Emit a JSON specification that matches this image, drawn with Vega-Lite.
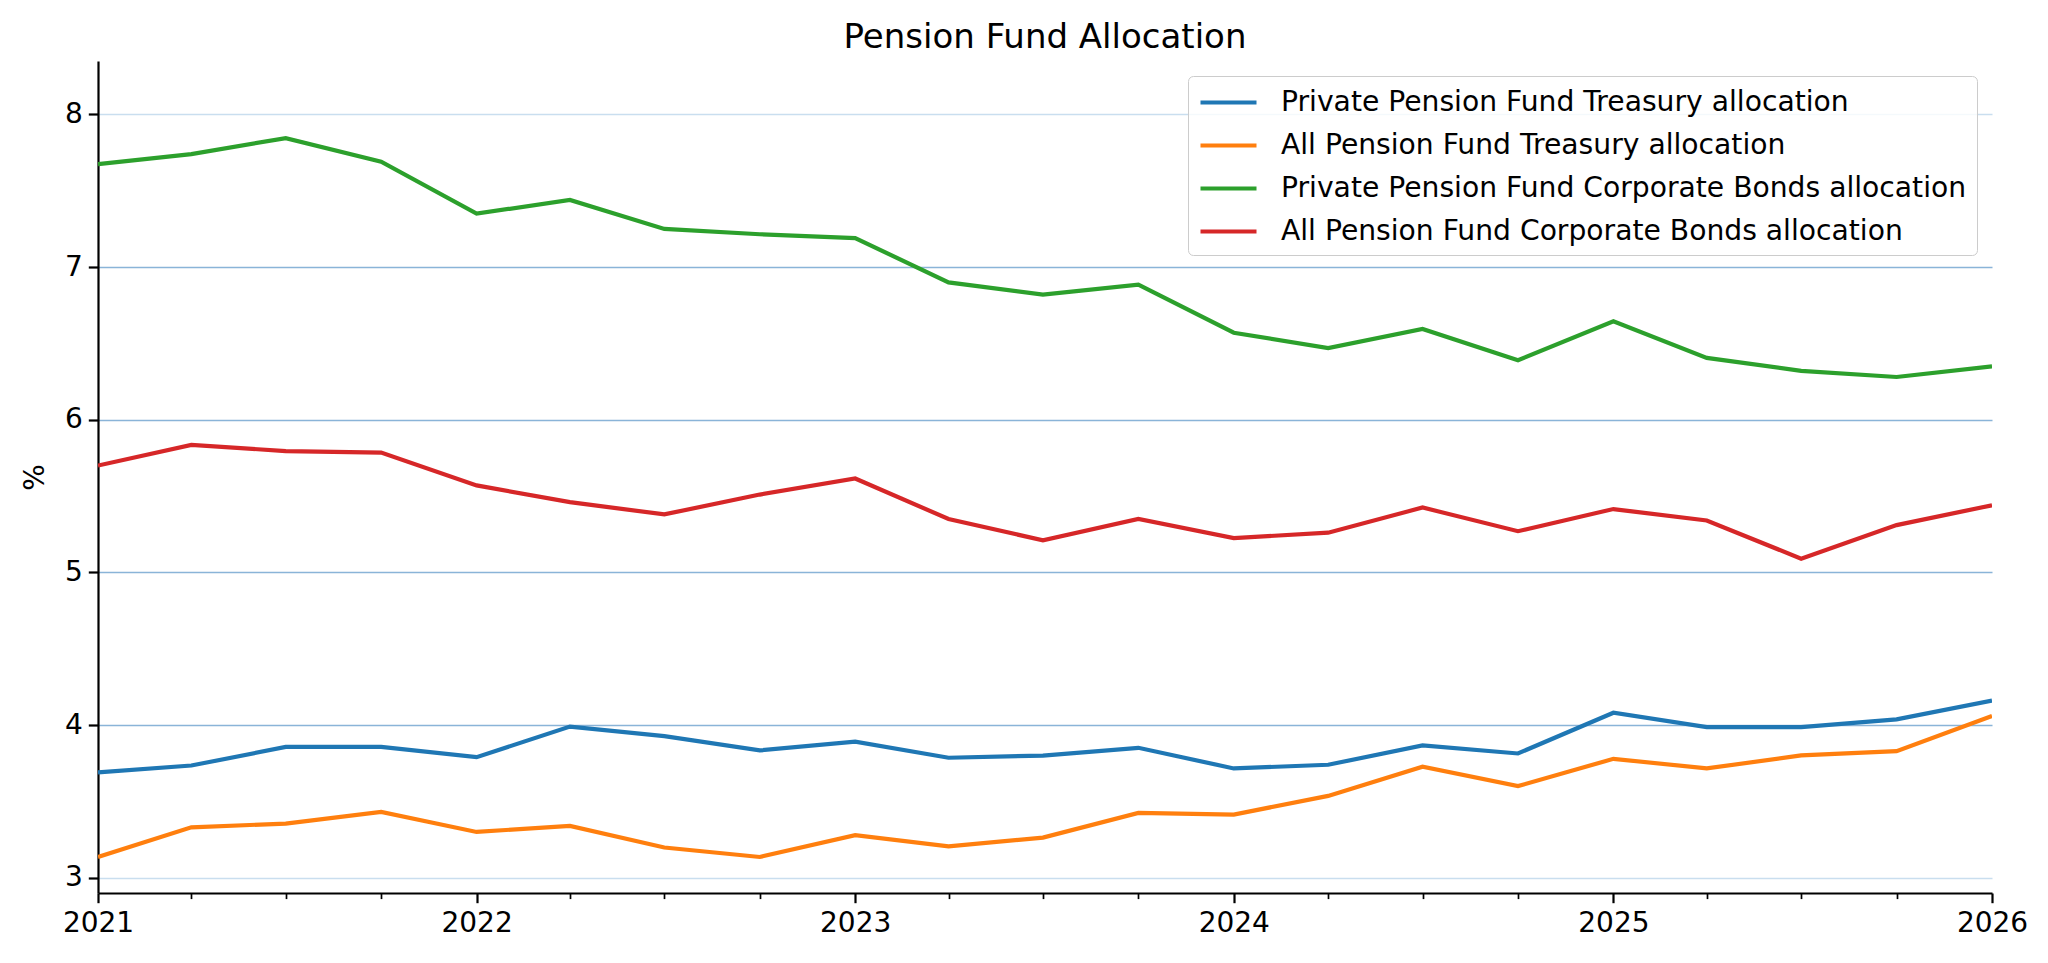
{
  "$schema": "https://vega.github.io/schema/vega-lite/v6.json",
  "description": "Pension fund Treasury and corporate bond allocation, quarterly, 2021-2026.",
  "width": 1894,
  "height": 832,
  "autosize": {"type": "none"},
  "padding": {"left": 98, "top": 61, "right": 56, "bottom": 70},
  "background": "white",
  "config": {"view": {"stroke": null}, "font": "DejaVu Sans"},
  "title": {
    "text": "Pension Fund Allocation",
    "font": "DejaVu Sans",
    "fontSize": 34,
    "fontWeight": "normal",
    "color": "black",
    "anchor": "middle",
    "baseline": "alphabetic",
    "offset": 15,
    "dy": 36
  },
  "data": {
    "values": [
      {"date": "2021-01-01T00:00", "series": "Private Pension Fund Treasury allocation", "value": 3.69},
      {"date": "2021-04-01T00:00", "series": "Private Pension Fund Treasury allocation", "value": 3.735},
      {"date": "2021-07-01T00:00", "series": "Private Pension Fund Treasury allocation", "value": 3.857},
      {"date": "2021-10-01T00:00", "series": "Private Pension Fund Treasury allocation", "value": 3.857},
      {"date": "2022-01-01T00:00", "series": "Private Pension Fund Treasury allocation", "value": 3.79},
      {"date": "2022-04-01T00:00", "series": "Private Pension Fund Treasury allocation", "value": 3.99},
      {"date": "2022-07-01T00:00", "series": "Private Pension Fund Treasury allocation", "value": 3.928},
      {"date": "2022-10-01T00:00", "series": "Private Pension Fund Treasury allocation", "value": 3.834},
      {"date": "2023-01-01T00:00", "series": "Private Pension Fund Treasury allocation", "value": 3.891},
      {"date": "2023-04-01T00:00", "series": "Private Pension Fund Treasury allocation", "value": 3.786},
      {"date": "2023-07-01T00:00", "series": "Private Pension Fund Treasury allocation", "value": 3.8},
      {"date": "2023-10-01T00:00", "series": "Private Pension Fund Treasury allocation", "value": 3.851},
      {"date": "2024-01-01T00:00", "series": "Private Pension Fund Treasury allocation", "value": 3.716},
      {"date": "2024-04-01T00:00", "series": "Private Pension Fund Treasury allocation", "value": 3.74},
      {"date": "2024-07-01T00:00", "series": "Private Pension Fund Treasury allocation", "value": 3.867},
      {"date": "2024-10-01T00:00", "series": "Private Pension Fund Treasury allocation", "value": 3.814},
      {"date": "2025-01-01T00:00", "series": "Private Pension Fund Treasury allocation", "value": 4.081},
      {"date": "2025-04-01T00:00", "series": "Private Pension Fund Treasury allocation", "value": 3.987},
      {"date": "2025-07-01T00:00", "series": "Private Pension Fund Treasury allocation", "value": 3.987},
      {"date": "2025-10-01T00:00", "series": "Private Pension Fund Treasury allocation", "value": 4.037},
      {"date": "2026-01-01T00:00", "series": "Private Pension Fund Treasury allocation", "value": 4.16},
      {"date": "2021-01-01T00:00", "series": "All Pension Fund Treasury allocation", "value": 3.136},
      {"date": "2021-04-01T00:00", "series": "All Pension Fund Treasury allocation", "value": 3.33},
      {"date": "2021-07-01T00:00", "series": "All Pension Fund Treasury allocation", "value": 3.355},
      {"date": "2021-10-01T00:00", "series": "All Pension Fund Treasury allocation", "value": 3.431},
      {"date": "2022-01-01T00:00", "series": "All Pension Fund Treasury allocation", "value": 3.3},
      {"date": "2022-04-01T00:00", "series": "All Pension Fund Treasury allocation", "value": 3.34},
      {"date": "2022-07-01T00:00", "series": "All Pension Fund Treasury allocation", "value": 3.198},
      {"date": "2022-10-01T00:00", "series": "All Pension Fund Treasury allocation", "value": 3.136},
      {"date": "2023-01-01T00:00", "series": "All Pension Fund Treasury allocation", "value": 3.279},
      {"date": "2023-04-01T00:00", "series": "All Pension Fund Treasury allocation", "value": 3.206},
      {"date": "2023-07-01T00:00", "series": "All Pension Fund Treasury allocation", "value": 3.263},
      {"date": "2023-10-01T00:00", "series": "All Pension Fund Treasury allocation", "value": 3.425},
      {"date": "2024-01-01T00:00", "series": "All Pension Fund Treasury allocation", "value": 3.414},
      {"date": "2024-04-01T00:00", "series": "All Pension Fund Treasury allocation", "value": 3.536},
      {"date": "2024-07-01T00:00", "series": "All Pension Fund Treasury allocation", "value": 3.727},
      {"date": "2024-10-01T00:00", "series": "All Pension Fund Treasury allocation", "value": 3.6},
      {"date": "2025-01-01T00:00", "series": "All Pension Fund Treasury allocation", "value": 3.779},
      {"date": "2025-04-01T00:00", "series": "All Pension Fund Treasury allocation", "value": 3.716},
      {"date": "2025-07-01T00:00", "series": "All Pension Fund Treasury allocation", "value": 3.801},
      {"date": "2025-10-01T00:00", "series": "All Pension Fund Treasury allocation", "value": 3.829},
      {"date": "2026-01-01T00:00", "series": "All Pension Fund Treasury allocation", "value": 4.059},
      {"date": "2021-01-01T00:00", "series": "Private Pension Fund Corporate Bonds allocation", "value": 7.675},
      {"date": "2021-04-01T00:00", "series": "Private Pension Fund Corporate Bonds allocation", "value": 7.74},
      {"date": "2021-07-01T00:00", "series": "Private Pension Fund Corporate Bonds allocation", "value": 7.845},
      {"date": "2021-10-01T00:00", "series": "Private Pension Fund Corporate Bonds allocation", "value": 7.69},
      {"date": "2022-01-01T00:00", "series": "Private Pension Fund Corporate Bonds allocation", "value": 7.35},
      {"date": "2022-04-01T00:00", "series": "Private Pension Fund Corporate Bonds allocation", "value": 7.44},
      {"date": "2022-07-01T00:00", "series": "Private Pension Fund Corporate Bonds allocation", "value": 7.25},
      {"date": "2022-10-01T00:00", "series": "Private Pension Fund Corporate Bonds allocation", "value": 7.215},
      {"date": "2023-01-01T00:00", "series": "Private Pension Fund Corporate Bonds allocation", "value": 7.19},
      {"date": "2023-04-01T00:00", "series": "Private Pension Fund Corporate Bonds allocation", "value": 6.9},
      {"date": "2023-07-01T00:00", "series": "Private Pension Fund Corporate Bonds allocation", "value": 6.82},
      {"date": "2023-10-01T00:00", "series": "Private Pension Fund Corporate Bonds allocation", "value": 6.885},
      {"date": "2024-01-01T00:00", "series": "Private Pension Fund Corporate Bonds allocation", "value": 6.57},
      {"date": "2024-04-01T00:00", "series": "Private Pension Fund Corporate Bonds allocation", "value": 6.47},
      {"date": "2024-07-01T00:00", "series": "Private Pension Fund Corporate Bonds allocation", "value": 6.595},
      {"date": "2024-10-01T00:00", "series": "Private Pension Fund Corporate Bonds allocation", "value": 6.39},
      {"date": "2025-01-01T00:00", "series": "Private Pension Fund Corporate Bonds allocation", "value": 6.645},
      {"date": "2025-04-01T00:00", "series": "Private Pension Fund Corporate Bonds allocation", "value": 6.405},
      {"date": "2025-07-01T00:00", "series": "Private Pension Fund Corporate Bonds allocation", "value": 6.32},
      {"date": "2025-10-01T00:00", "series": "Private Pension Fund Corporate Bonds allocation", "value": 6.28},
      {"date": "2026-01-01T00:00", "series": "Private Pension Fund Corporate Bonds allocation", "value": 6.35},
      {"date": "2021-01-01T00:00", "series": "All Pension Fund Corporate Bonds allocation", "value": 5.7},
      {"date": "2021-04-01T00:00", "series": "All Pension Fund Corporate Bonds allocation", "value": 5.835},
      {"date": "2021-07-01T00:00", "series": "All Pension Fund Corporate Bonds allocation", "value": 5.795},
      {"date": "2021-10-01T00:00", "series": "All Pension Fund Corporate Bonds allocation", "value": 5.785},
      {"date": "2022-01-01T00:00", "series": "All Pension Fund Corporate Bonds allocation", "value": 5.57},
      {"date": "2022-04-01T00:00", "series": "All Pension Fund Corporate Bonds allocation", "value": 5.46},
      {"date": "2022-07-01T00:00", "series": "All Pension Fund Corporate Bonds allocation", "value": 5.38},
      {"date": "2022-10-01T00:00", "series": "All Pension Fund Corporate Bonds allocation", "value": 5.51},
      {"date": "2023-01-01T00:00", "series": "All Pension Fund Corporate Bonds allocation", "value": 5.615},
      {"date": "2023-04-01T00:00", "series": "All Pension Fund Corporate Bonds allocation", "value": 5.35},
      {"date": "2023-07-01T00:00", "series": "All Pension Fund Corporate Bonds allocation", "value": 5.21},
      {"date": "2023-10-01T00:00", "series": "All Pension Fund Corporate Bonds allocation", "value": 5.35},
      {"date": "2024-01-01T00:00", "series": "All Pension Fund Corporate Bonds allocation", "value": 5.225},
      {"date": "2024-04-01T00:00", "series": "All Pension Fund Corporate Bonds allocation", "value": 5.26},
      {"date": "2024-07-01T00:00", "series": "All Pension Fund Corporate Bonds allocation", "value": 5.425},
      {"date": "2024-10-01T00:00", "series": "All Pension Fund Corporate Bonds allocation", "value": 5.27},
      {"date": "2025-01-01T00:00", "series": "All Pension Fund Corporate Bonds allocation", "value": 5.415},
      {"date": "2025-04-01T00:00", "series": "All Pension Fund Corporate Bonds allocation", "value": 5.34},
      {"date": "2025-07-01T00:00", "series": "All Pension Fund Corporate Bonds allocation", "value": 5.09},
      {"date": "2025-10-01T00:00", "series": "All Pension Fund Corporate Bonds allocation", "value": 5.31},
      {"date": "2026-01-01T00:00", "series": "All Pension Fund Corporate Bonds allocation", "value": 5.44}
    ]
  },
  "mark": {"type": "line", "strokeWidth": 4.2, "clip": true},
  "encoding": {
    "x": {
      "field": "date",
      "type": "temporal",
      "scale": {
        "domain": [{"year": 2021, "month": 1, "date": 1}, {"year": 2026, "month": 1, "date": 1}],
        "nice": false
      },
      "axis": {
        "title": null,
        "grid": false,
        "tickCount": {"interval": "month", "step": 3},
        "labelExpr": "month(datum.value) == 0 ? timeFormat(datum.value, '%Y') : ''",
        "tickSize": {"expr": "month(datum.value) == 0 ? 9.7 : 5.6"},
        "tickWidth": {"expr": "month(datum.value) == 0 ? 2.2 : 1.7"},
        "tickColor": "black",
        "domainColor": "black",
        "domainWidth": 2.2,
        "labelFontSize": 28,
        "labelColor": "black",
        "labelPadding": 7,
        "labelFlush": false,
        "labelOverlap": false
      }
    },
    "y": {
      "field": "value",
      "type": "quantitative",
      "scale": {"domain": [2.9, 8.35], "nice": false, "zero": false},
      "axis": {
        "title": "%",
        "values": [3, 4, 5, 6, 7, 8],
        "grid": true,
        "gridColor": {"expr": "datum.value == 8 || datum.value == 3 ? '#c9deef' : '#8ab4d8'"},
        "gridWidth": 1.5,
        "tickColor": "black",
        "tickWidth": 2.2,
        "tickSize": 9.7,
        "domainColor": "black",
        "domainWidth": 2.2,
        "labelFontSize": 28,
        "labelColor": "black",
        "labelPadding": 6,
        "titleFontSize": 28,
        "titleFontWeight": "normal",
        "titleColor": "black",
        "titleAngle": -90,
        "titleBaseline": "middle",
        "titleAlign": "center",
        "titleX": -63,
        "titleY": 416
      }
    },
    "color": {
      "field": "series",
      "type": "nominal",
      "scale": {
        "domain": [
          "Private Pension Fund Treasury allocation",
          "All Pension Fund Treasury allocation",
          "Private Pension Fund Corporate Bonds allocation",
          "All Pension Fund Corporate Bonds allocation"
        ],
        "range": ["#1f77b4", "#ff7f0e", "#2ca02c", "#d62728"]
      },
      "legend": {
        "title": null,
        "orient": "none",
        "legendX": 1090,
        "legendY": 15,
        "symbolType": "M-1,0H3",
        "symbolSize": 784,
        "symbolStrokeWidth": 4.2,
        "labelFontSize": 28.2,
        "labelColor": "black",
        "labelLimit": 1000,
        "labelOffset": 50,
        "rowPadding": 13,
        "padding": 10,
        "fillColor": "rgba(255,255,255,0.8)",
        "strokeColor": "#cccccc",
        "cornerRadius": 5
      }
    }
  }
}
